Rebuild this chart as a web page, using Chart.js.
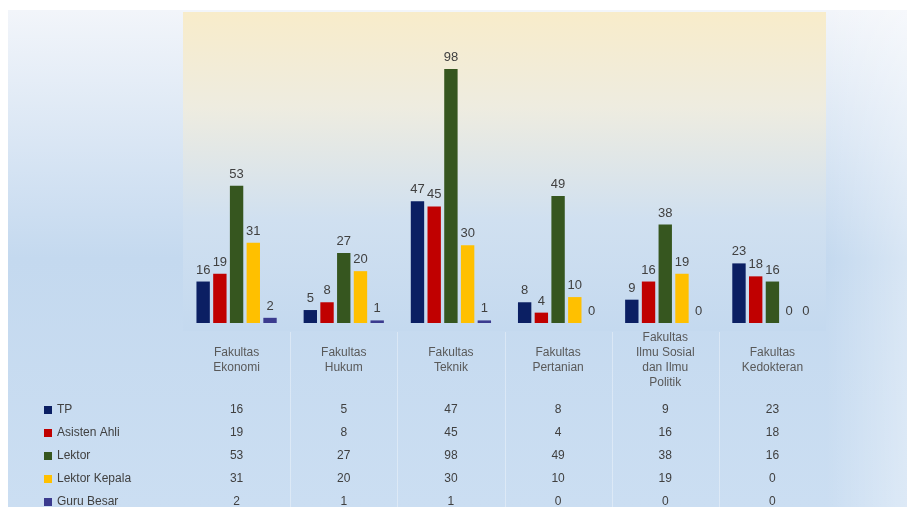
<!DOCTYPE html>
<html>
<head>
<meta charset="utf-8">
<script src="https://cdn.jsdelivr.net/npm/chart.js@4.4.1/dist/chart.umd.min.js"></script>
<style>
  body { margin: 0; background: #fff; }
  #wrap { width: 907px; height: 507px; position: relative; }
</style>
</head>
<body>
<div id="wrap"><canvas id="chart" width="907" height="507"></canvas></div>
<script>
// Data
const categories = [
    ['Fakultas', 'Ekonomi'],
    ['Fakultas', 'Hukum'],
    ['Fakultas', 'Teknik'],
    ['Fakultas', 'Pertanian'],
    ['Fakultas', 'Ilmu Sosial', 'dan Ilmu', 'Politik'],
    ['Fakultas', 'Kedokteran']
];
const seriesNames = ['TP', 'Asisten Ahli', 'Lektor', 'Lektor Kepala', 'Guru Besar'];
const tp = [16, 5, 47, 8, 9, 23];
const asistenAhli = [19, 8, 45, 4, 16, 18];
const lektor = [53, 27, 98, 49, 38, 16];
const lektorKepala = [31, 20, 30, 10, 19, 0];
const guruBesar = [2, 1, 1, 0, 0, 0];
const seriesColors = ['#0b1f63', '#c00000', '#36561f', '#ffc000', '#3b3b8f'];

const FONT = '"Liberation Sans", Arial, sans-serif';

// Background panel + plot area gradient
const backgroundPlugin = {
    id: 'bg',
    beforeDraw(chart) {
        const ctx = chart.ctx;
        const a = chart.chartArea;
        ctx.save();
        let g = ctx.createLinearGradient(0, 10, 0, 507);
        g.addColorStop(0, '#f2f5fa');
        g.addColorStop(0.5, '#c4d9ef');
        g.addColorStop(1, '#cbdef2');
        ctx.fillStyle = g;
        ctx.fillRect(8, 10, 899, 497);
        // lighter right side
        let h = ctx.createLinearGradient(826, 0, 907, 0);
        h.addColorStop(0, 'rgba(255,255,255,0)');
        h.addColorStop(1, 'rgba(255,255,255,0.35)');
        ctx.fillStyle = h;
        ctx.fillRect(826, 10, 81, 497);
        // plot area
        let p = ctx.createLinearGradient(0, a.top, 0, a.bottom + 8);
        p.addColorStop(0, '#f8ecca');
        p.addColorStop(0.3, '#eeece0');
        p.addColorStop(0.65, '#d0e0f0');
        p.addColorStop(1, '#c4d9ef');
        ctx.fillStyle = p;
        ctx.fillRect(a.left, a.top, a.right - a.left, a.bottom - a.top + 8);
        ctx.restore();
    }
};

// Value labels, category labels and the data table
const labelsPlugin = {
    id: 'labels',
    afterDatasetsDraw(chart) {
        const ctx = chart.ctx;
        const xs = chart.scales.x;
        ctx.save();
        ctx.font = '13px ' + FONT;
        ctx.fillStyle = '#404040';
        ctx.textAlign = 'center';
        ctx.textBaseline = 'bottom';
        chart.data.datasets.forEach((ds, di) => {
            const meta = chart.getDatasetMeta(di);
            meta.data.forEach((bar, i) => {
                ctx.fillText(String(ds.data[i]), bar.x, bar.y - 5);
            });
        });

        // category labels
        ctx.font = '12px ' + FONT;
        ctx.fillStyle = '#595959';
        ctx.textBaseline = 'middle';
        categories.forEach((lines, i) => {
            const x = xs.getPixelForValue(i);
            const start = 360 - (lines.length - 1) * 7.5;
            lines.forEach((t, k) => ctx.fillText(t, x, start + k * 15));
        });

        // table separators
        ctx.strokeStyle = 'rgba(255,255,255,0.35)';
        ctx.lineWidth = 1;
        for (let i = 1; i < categories.length; i++) {
            const x = Math.round((xs.getPixelForValue(i - 1) + xs.getPixelForValue(i)) / 2) + 0.5;
            ctx.beginPath();
            ctx.moveTo(x, 332);
            ctx.lineTo(x, 507);
            ctx.stroke();
        }

        // data table rows
        const rowY = [410, 433, 456, 479, 502];
        chart.data.datasets.forEach((ds, di) => {
            const y = rowY[di];
            ctx.fillStyle = ds.backgroundColor;
            ctx.fillRect(44, y - 4, 8, 8);
            ctx.fillStyle = '#404040';
            ctx.textAlign = 'left';
            ctx.fillText(ds.label, 57, y);
            ctx.textAlign = 'center';
            ds.data.forEach((v, i) => ctx.fillText(String(v), xs.getPixelForValue(i), y));
        });
        ctx.restore();
    }
};

new Chart(document.getElementById('chart'), {
    type: 'bar',
    data: {
        labels: categories,
        datasets: [tp, asistenAhli, lektor, lektorKepala, guruBesar].map((d, i) => ({
            label: seriesNames[i],
            data: d,
            backgroundColor: seriesColors[i],
            borderWidth: 0,
            categoryPercentage: 0.78,
            barPercentage: 0.8
        }))
    },
    options: {
        responsive: false,
        animation: false,
        layout: { padding: { left: 183, right: 81, top: 12, bottom: 184 } },
        plugins: {
            legend: { display: false },
            tooltip: { enabled: false }
        },
        scales: {
            x: { display: false },
            y: { display: false, min: 0, max: 120 }
        }
    },
    plugins: [backgroundPlugin, labelsPlugin]
});
</script>
</body>
</html>
